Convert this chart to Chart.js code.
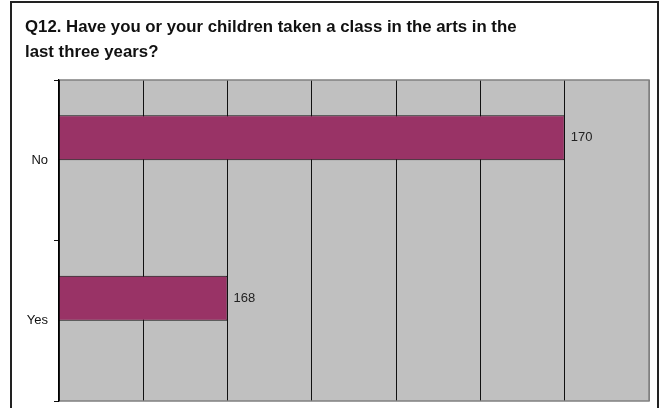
<!DOCTYPE html>
<html>
<head>
<meta charset="utf-8">
<script src="https://cdn.jsdelivr.net/npm/chart.js@4"></script>
<style>
  html, body { margin: 0; padding: 0; background: #fff; overflow: hidden; }
  #frame { position: absolute; left: 10px; top: 1px; width: 645px; height: 440px; border: 2px solid #222; }
  #chart { position: absolute; left: 0; top: 0; }
</style>
</head>
<body>
<div id="frame"></div>
<canvas id="chart" width="667" height="408"></canvas>
<script>
const categories = ['No', 'Yes'];
const responses = [170, 168];
const emptySeries = [null, null];
const titleLines = ['Q12. Have you or your children taken a class in the arts in the', 'last three years?'];
const axisMin = 167, axisMax = 170.5, axisStep = 0.5;

// fons gris de l'àrea del gràfic i vora
const plotArea = {
    id: 'plotArea',
    beforeDraw(chart) {
        const { ctx, chartArea: a } = chart;
        ctx.save();
        ctx.fillStyle = '#c0c0c0';
        ctx.fillRect(a.left, a.top, a.right - a.left, a.bottom - a.top);
        ctx.restore();
    },
    afterDatasetsDraw(chart) {
        const { ctx, chartArea: a } = chart;
        ctx.save();
        ctx.strokeStyle = '#808080';
        ctx.lineWidth = 1.5;
        ctx.beginPath();
        ctx.moveTo(a.left, a.top);
        ctx.lineTo(a.right, a.top);
        ctx.lineTo(a.right, a.bottom);
        ctx.lineTo(a.left, a.bottom);
        ctx.stroke();
        ctx.strokeStyle = '#000';
        ctx.lineWidth = 1.5;
        ctx.beginPath();
        ctx.moveTo(a.left, a.top);
        ctx.lineTo(a.left, a.bottom);
        ctx.stroke();
        // etiquetes de valor
        const meta = chart.getDatasetMeta(0);
        ctx.fillStyle = '#222';
        ctx.font = '13px "Liberation Sans", Arial, sans-serif';
        ctx.textBaseline = 'middle';
        ctx.textAlign = 'left';
        meta.data.forEach((bar, i) => {
            ctx.fillText(String(responses[i]), bar.x + 6, bar.y);
        });
        ctx.restore();
    }
};

new Chart(document.getElementById('chart'), {
    type: 'bar',
    data: {
        labels: categories,
        datasets: [
            { data: responses, backgroundColor: '#993366', borderColor: '#111', borderWidth: 1 },
            { data: emptySeries, backgroundColor: '#993366' }
        ]
    },
    options: {
        indexAxis: 'y',
        responsive: false,
        animation: false,
        categoryPercentage: 0.561,
        barPercentage: 1,
        layout: { padding: { left: 25, right: 18, top: 0, bottom: 7 } },
        plugins: {
            legend: { display: false },
            tooltip: { enabled: false },
            title: {
                display: true,
                text: titleLines,
                align: 'start',
                color: '#111',
                font: { family: '"Liberation Sans", Arial, sans-serif', size: 16.8, weight: 'bold', lineHeight: 25 / 16.8 },
                padding: { top: 15, bottom: 15 }
            }
        },
        scales: {
            x: {
                min: axisMin,
                max: axisMax,
                ticks: { display: false, stepSize: axisStep },
                grid: {
                    drawTicks: false,
                    color: ctx => ctx.index === 0 ? 'rgba(0,0,0,0)' : (ctx.tick && ctx.tick.value >= axisMax ? '#808080' : '#111'),
                    lineWidth: 1
                },
                border: { display: false },
                afterFit: s => { s.height = 0; s.paddingLeft = 0; s.paddingRight = 0; }
            },
            y: {
                grid: { drawOnChartArea: false, drawTicks: true, tickLength: 5, color: '#111' },
                border: { display: true, color: '#000', width: 1.5 },
                ticks: { color: '#111', padding: 6, font: { family: '"Liberation Sans", Arial, sans-serif', size: 13 } },
                afterFit: s => { s.width = 34; s.paddingTop = 0; s.paddingBottom = 0; }
            }
        }
    },
    plugins: [plotArea]
});
</script>
</body>
</html>
